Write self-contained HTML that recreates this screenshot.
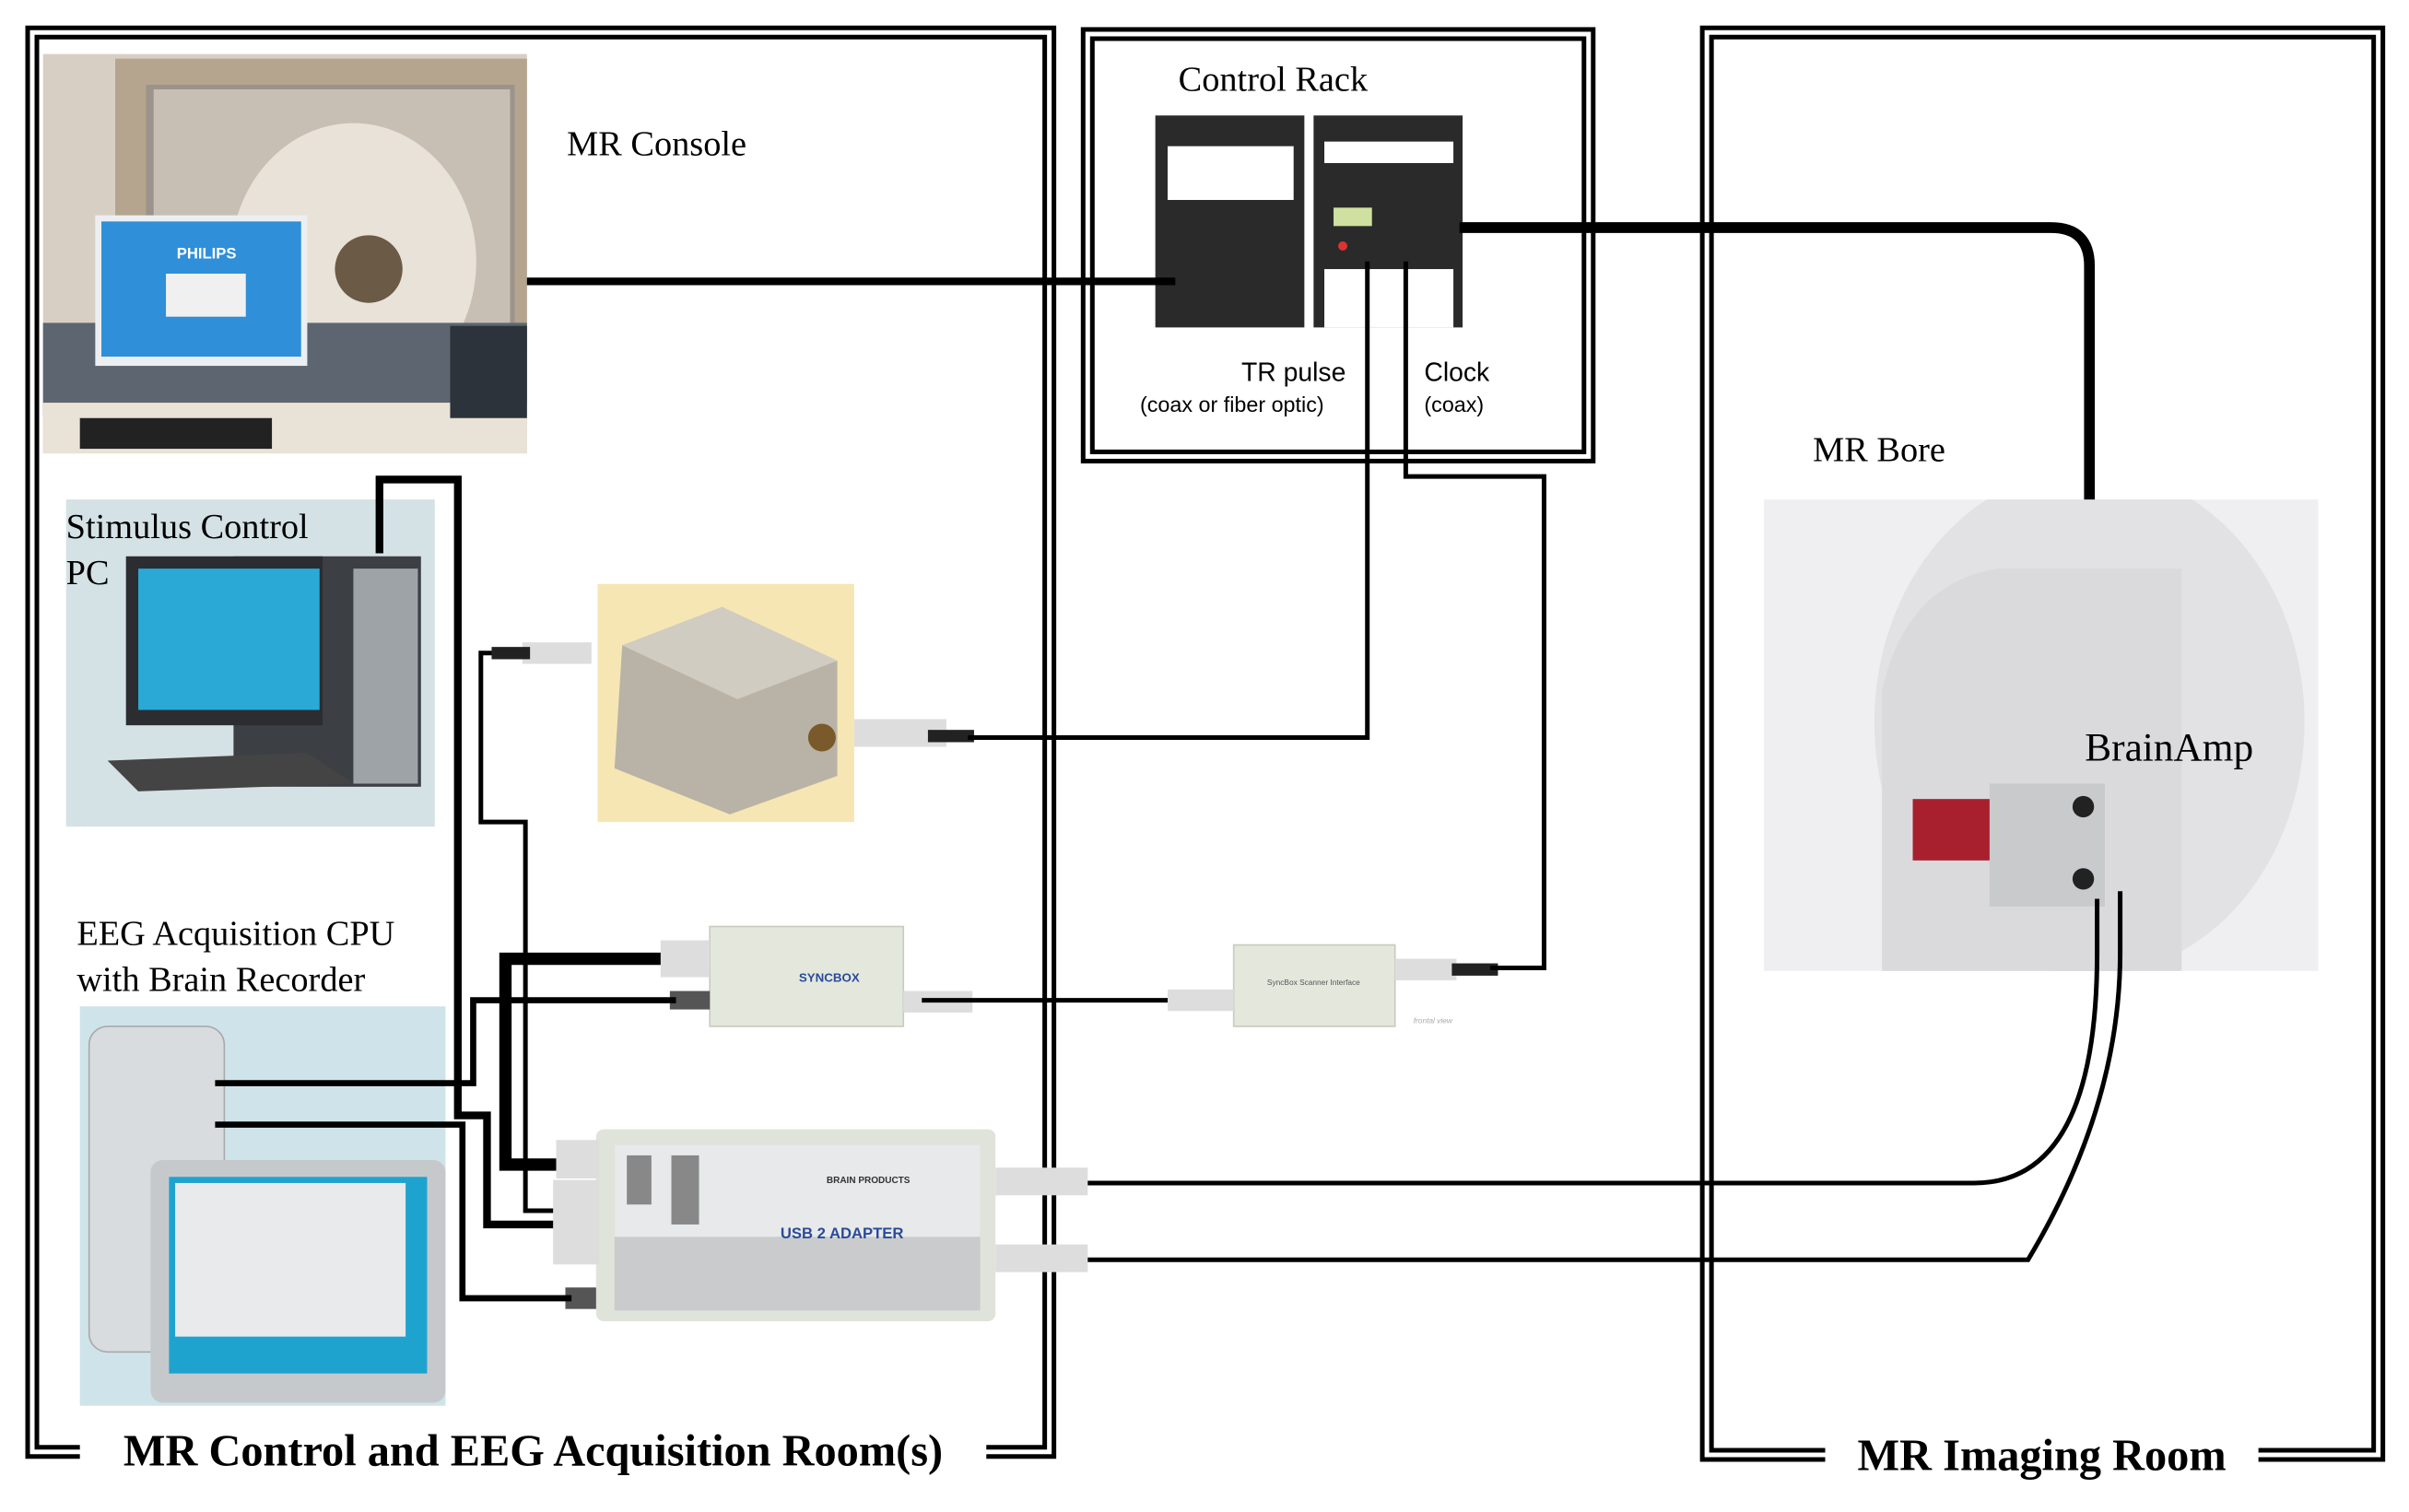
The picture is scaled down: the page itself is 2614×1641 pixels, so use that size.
<!DOCTYPE html>
<html><head><meta charset="utf-8"><style>
html,body{margin:0;padding:0;background:#fff;}
svg{display:block;}
.serif{font-family:"Liberation Serif",serif;}
.sans{font-family:"Liberation Sans",sans-serif;}
</style></head><body>
<svg width="2614" height="1641" viewBox="0 0 1568 984" xmlns="http://www.w3.org/2000/svg">
<defs><clipPath id="bc"><rect x="1148" y="325" width="361" height="307"/></clipPath></defs>
<rect width="1568" height="984" fill="#fff"/>
<g fill="none" stroke="#000" stroke-width="3">
<path d="M52 948 H18 V18 H686 V948 H642"/>
<path d="M52 942 H24 V24 H680 V942 H642"/>
<rect x="705" y="19" width="332" height="281"/>
<rect x="711" y="25" width="320" height="269"/>
<path d="M1188 950 H1108 V18 H1551 V950 H1470"/>
<path d="M1188 944 H1114 V24 H1545 V944 H1470"/>
</g>
<text x="347" y="954" class="serif" font-size="29" font-weight="bold" text-anchor="middle">MR Control and EEG Acquisition Room(s)</text>
<text x="1329" y="957" class="serif" font-size="29" font-weight="bold" text-anchor="middle">MR Imaging Room</text>

<!-- MR console photo -->
<rect x="28" y="35" width="315" height="260" fill="#d8cfc4"/>
<rect x="75" y="38" width="268" height="190" fill="#b5a58e"/>
<rect x="95" y="55" width="240" height="170" fill="#9c948b"/>
<rect x="100" y="58" width="232" height="160" fill="#c7bfb4"/>
<ellipse cx="230" cy="170" rx="80" ry="90" fill="#e8e2d8"/>
<circle cx="240" cy="175" r="22" fill="#6b5a45"/>
<rect x="28" y="210" width="315" height="60" fill="#5d6670"/>
<rect x="62" y="140" width="138" height="98" fill="#eceff2"/>
<rect x="66" y="144" width="130" height="88" fill="#2f8fd8"/>
<text x="115" y="168" class="sans" font-size="10" font-weight="bold" fill="#fff">PHILIPS</text>
<rect x="108" y="178" width="52" height="28" fill="#f0f0f0"/>
<rect x="28" y="262" width="315" height="33" fill="#e9e2d6"/>
<rect x="52" y="272" width="125" height="20" fill="#222"/>
<rect x="293" y="212" width="50" height="60" fill="#2c333a"/>
<text x="369" y="101" class="serif" font-size="23">MR Console</text>

<!-- Stimulus PC -->
<rect x="43" y="325" width="240" height="213" fill="#d4e2e6"/>
<rect x="152" y="362" width="122" height="150" fill="#3c3f44"/>
<rect x="230" y="370" width="42" height="140" fill="#9ea3a8"/>
<rect x="82" y="362" width="128" height="110" fill="#2b2d30"/>
<rect x="90" y="370" width="118" height="92" fill="#2aa9d6"/>
<path d="M70 495 L200 490 L230 510 L90 515 Z" fill="#444"/>
<text x="43" y="350" class="serif" font-size="23">Stimulus Control</text>
<text x="43" y="380" class="serif" font-size="23">PC</text>

<!-- Pulse stretcher -->
<rect x="389" y="380" width="167" height="155" fill="#f6e6b4"/>
<path d="M405 420 L470 395 L545 430 L545 505 L475 530 L400 500 Z" fill="#b8b3a6"/>
<path d="M405 420 L470 395 L545 430 L480 455 Z" fill="#d0ccc2"/>
<circle cx="535" cy="480" r="9" fill="#7a5a2a"/>
<rect x="556" y="468" width="60" height="18" fill="#ddd"/>
<rect x="604" y="475" width="30" height="8" fill="#222"/>
<rect x="340" y="418" width="45" height="14" fill="#ddd"/>
<rect x="320" y="421" width="25" height="8" fill="#222"/>

<!-- Syncbox -->
<rect x="462" y="603" width="126" height="65" fill="#e4e8dc" stroke="#c8ccc0"/>
<text x="520" y="639" class="sans" font-size="8" font-weight="bold" fill="#2a4a9a">SYNCBOX</text>
<rect x="430" y="612" width="32" height="24" fill="#ddd"/>
<rect x="436" y="645" width="26" height="12" fill="#555"/>
<rect x="588" y="645" width="45" height="14" fill="#ddd"/>
<rect x="803" y="615" width="105" height="53" fill="#e4e8dc" stroke="#c8ccc0"/>
<text x="855" y="641" class="sans" font-size="5" text-anchor="middle" fill="#555">SyncBox Scanner Interface</text>
<text x="920" y="666" class="sans" font-size="5" font-style="italic" fill="#aaa">frontal view</text>
<rect x="760" y="644" width="43" height="14" fill="#ddd"/>
<rect x="908" y="624" width="40" height="14" fill="#ddd"/>
<rect x="945" y="627" width="30" height="8" fill="#222"/>

<!-- EEG CPU -->
<rect x="52" y="655" width="238" height="260" fill="#cfe3ea"/>
<rect x="58" y="668" width="88" height="212" rx="12" fill="#d9dcde" stroke="#aaa"/>
<rect x="98" y="755" width="192" height="158" rx="8" fill="#c6c9cc"/>
<rect x="110" y="766" width="168" height="128" fill="#1ea3cf"/>
<rect x="114" y="770" width="150" height="100" fill="#e8eaec"/>
<text x="50" y="615" class="serif" font-size="23">EEG Acquisition CPU</text>
<text x="50" y="645" class="serif" font-size="23">with Brain Recorder</text>

<!-- USB adapter -->
<rect x="388" y="735" width="260" height="125" rx="5" fill="#e0e3da"/>
<rect x="400" y="745" width="238" height="108" fill="#c9cbcd"/>
<rect x="400" y="745" width="238" height="60" fill="#e8e9ea"/>
<text x="508" y="806" class="sans" font-size="10" font-weight="bold" fill="#2a4a9a">USB 2 ADAPTER</text>
<text x="538" y="770" class="sans" font-size="6" font-weight="bold" fill="#333">BRAIN PRODUCTS</text>
<rect x="408" y="752" width="16" height="32" fill="#888"/>
<rect x="437" y="752" width="18" height="45" fill="#888"/>
<rect x="362" y="742" width="28" height="25" fill="#ddd"/>
<rect x="360" y="768" width="30" height="55" fill="#ddd"/>
<rect x="368" y="838" width="20" height="14" fill="#555"/>
<rect x="648" y="760" width="60" height="18" fill="#ddd"/>
<rect x="648" y="810" width="60" height="18" fill="#ddd"/>

<!-- Control rack cabinets -->
<rect x="752" y="75" width="97" height="138" fill="#2a2a2a"/>
<rect x="760" y="95" width="82" height="35" fill="#fff"/>
<rect x="855" y="75" width="97" height="138" fill="#2a2a2a"/>
<rect x="862" y="92" width="84" height="14" fill="#fff"/>
<rect x="862" y="175" width="84" height="38" fill="#fff"/>
<rect x="868" y="135" width="25" height="12" fill="#cfe0a0"/>
<circle cx="874" cy="160" r="3" fill="#d33"/>
<text x="767" y="59" class="serif" font-size="23">Control Rack</text>
<text x="808" y="248" class="sans" font-size="17">TR pulse</text>
<text x="742" y="268" class="sans" font-size="14">(coax or fiber optic)</text>
<text x="927" y="248" class="sans" font-size="17">Clock</text>
<text x="927" y="268" class="sans" font-size="14">(coax)</text>

<!-- MR Bore photo -->
<g clip-path="url(#bc)">
<rect x="1148" y="325" width="361" height="307" fill="#efeff1"/>
<ellipse cx="1360" cy="470" rx="140" ry="165" fill="#e2e2e5"/>
<path d="M1225 632 L1225 450 Q1240 380 1300 370 L1420 370 L1420 632 Z" fill="#dadadd"/>
<rect x="1245" y="520" width="55" height="40" fill="#a8202e"/>
<rect x="1295" y="510" width="75" height="80" fill="#c9cacc"/>
<circle cx="1356" cy="525" r="7" fill="#222"/><circle cx="1356" cy="572" r="7" fill="#222"/>
</g>
<text x="1180" y="300" class="serif" font-size="23">MR Bore</text>
<text x="1357" y="495" class="serif" font-size="26">BrainAmp</text>

<!-- Cables -->
<g fill="none" stroke="#000" stroke-linejoin="miter">
<path d="M343 183 H765" stroke-width="5"/>
<path d="M950 148 H1335 Q1360 148 1360 173 V325" stroke-width="7"/>
<path d="M890 170 V480 H630" stroke-width="3"/>
<path d="M915 170 V310 H1005 V630 H970" stroke-width="3"/>
<path d="M600 651 H760" stroke-width="3"/>
<path d="M320 425 H313 V535 H342 V788 H360" stroke-width="3"/>
<path d="M140 705 H308 V651 H440" stroke-width="4"/>
<path d="M140 732 H301 V845 H372" stroke-width="4"/>
<path d="M247 360 V312 H298 V726 H317 V797 H360" stroke-width="5"/>
<path d="M430 624 H329 V758 H362" stroke-width="8"/>
<path d="M708 770 H1285 Q1365 770 1365 620 V585" stroke-width="3"/>
<path d="M708 820 H1320 Q1380 720 1380 620 V580" stroke-width="3"/>
</g>
</svg>
</body></html>
